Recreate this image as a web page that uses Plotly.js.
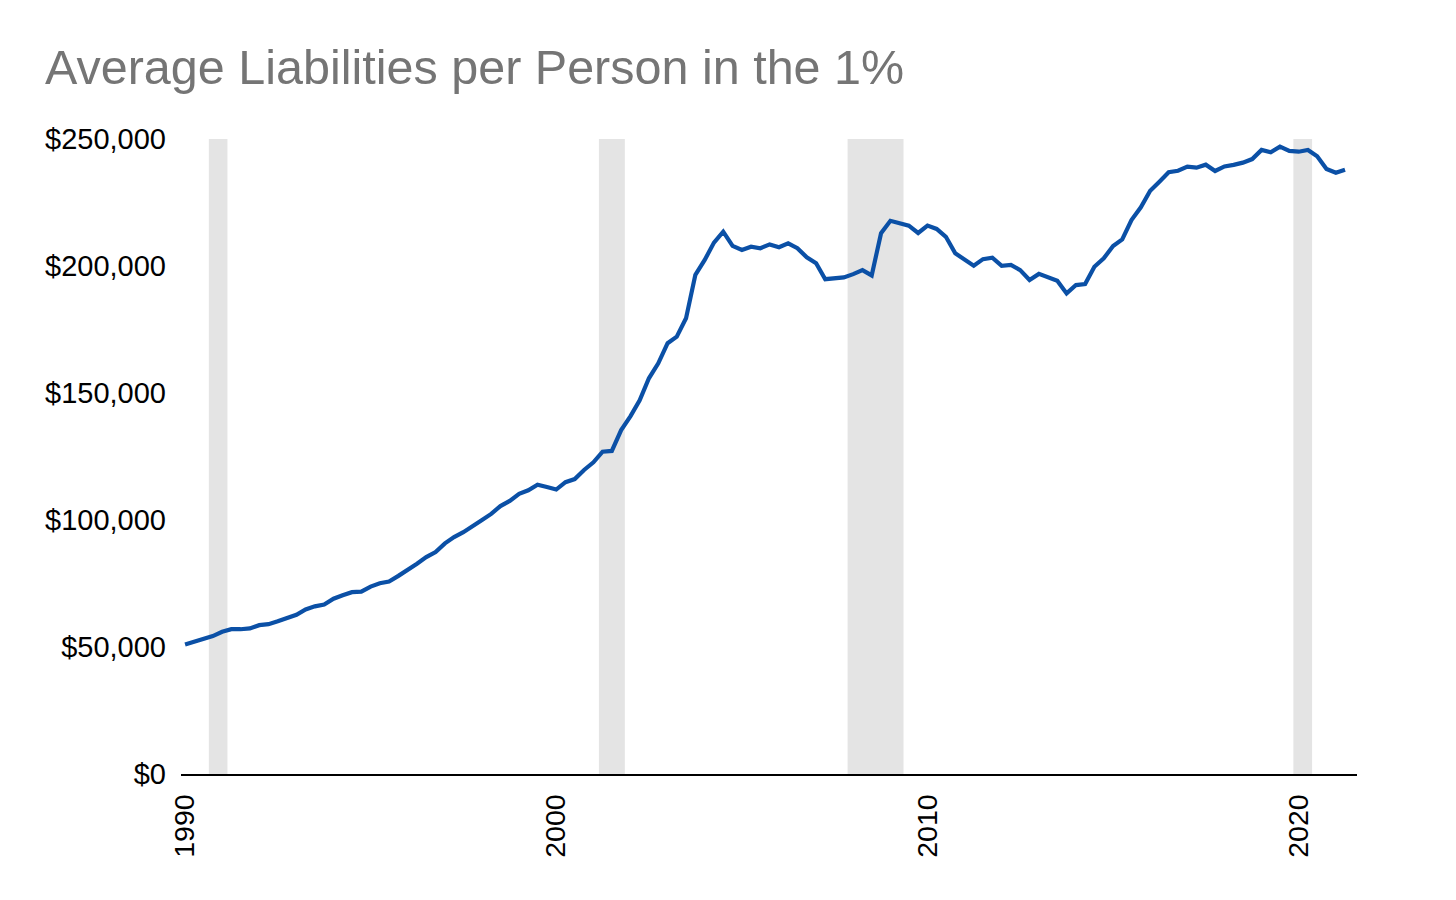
<!DOCTYPE html>
<html>
<head>
<meta charset="utf-8">
<script src="https://cdn.plot.ly/plotly-3.0.1.min.js"></script>
<style>
  html, body { margin: 0; padding: 0; background: #ffffff; }
  #chart { width: 1456px; height: 900px; }
</style>
</head>
<body>
<div id="chart"></div>
<script>
// Quarterly series, 1990 Q1 .. 2021 Q2 (values in dollars, thousands)
const firstYear = 1990;
const liabilitiesK = [
  51.0, 52.1, 53.2, 54.3, 56.0, 57.0, 57.0, 57.3, 58.6, 59.0,
  60.1, 61.5, 62.7, 64.8, 66.0, 66.7, 69.0, 70.4, 71.6, 71.8,
  73.8, 75.1, 75.8, 78.0, 80.3, 82.8, 85.4, 87.4, 90.8, 93.3,
  95.2, 97.4, 100.0, 102.4, 105.5, 107.5, 110.3, 111.7, 113.9, 113.0,
  112.0, 114.9, 116.1, 119.7, 122.7, 126.9, 127.2, 135.4, 140.9, 147.1,
  155.8, 161.7, 169.6, 172.2, 179.4, 196.5, 202.4, 209.2, 213.5, 207.9,
  206.3, 207.6, 207.0, 208.5, 207.4, 208.9, 207.0, 203.4, 201.1, 194.8,
  195.3, 195.5, 196.8, 198.4, 196.3, 212.9, 217.8, 216.8, 215.9, 213.0,
  215.9, 214.6, 211.5, 205.0, 202.6, 200.1, 202.7, 203.3, 200.1, 200.4,
  198.4, 194.5, 196.9, 195.7, 194.2, 189.2, 192.5, 192.9, 199.7, 203.0,
  207.9, 210.5, 218.1, 223.1, 229.6, 233.2, 236.9, 237.5, 239.1, 238.7,
  239.9, 237.4, 239.2, 239.8, 240.7, 242.1, 245.7, 244.8, 247.0, 245.3,
  245.0, 245.7, 243.2, 238.2, 236.7, 237.9
];
const recessionStarts = ['1990-08-23', '2001-02-24', '2007-11-07', '2019-11-10'];
const recessionEnds   = ['1991-02-22', '2001-11-06', '2009-05-10', '2020-05-12'];
const xTickVals = ['1990-01-01', '2000-01-01', '2010-01-01', '2020-01-01'];
const xTickText = ['1990', '2000', '2010', '2020'];
const yTickVals = [0, 50000, 100000, 150000, 200000, 250000];
const titleText = 'Average Liabilities per Person in the 1%';

const quarterMonths = ['01', '04', '07', '10'];
const dates = liabilitiesK.map((_, i) => {
  const y = firstYear + Math.floor(i / 4);
  return y + '-' + quarterMonths[i % 4] + '-01';
});
const values = liabilitiesK.map(v => v * 1000);

const shapes = recessionStarts.map((s, i) => ({
  type: 'rect', xref: 'x', yref: 'y',
  x0: s, x1: recessionEnds[i], y0: 0, y1: 250000,
  fillcolor: '#e4e4e4', line: { width: 0 }, layer: 'below'
}));

const trace = {
  x: dates, y: values, type: 'scatter', mode: 'lines',
  line: { color: '#0b50a6', width: 4.2 },
  hoverinfo: 'x+y'
};

const layout = {
  width: 1456, height: 900,
  paper_bgcolor: '#ffffff', plot_bgcolor: 'rgba(0,0,0,0)',
  font: { family: '"Liberation Sans", Arial, sans-serif', color: '#000000' },
  margin: { l: 181, r: 99, t: 139, b: 126, pad: 0 },
  showlegend: false,
  title: {
    text: titleText,
    font: { size: 48.5, color: '#757575', family: '"Liberation Sans", Arial, sans-serif' },
    xref: 'container', yref: 'container',
    x: 45 / 1456, xanchor: 'left',
    y: 1 - 67 / 900, yanchor: 'middle'
  },
  xaxis: {
    type: 'date',
    range: ['1989-11-22', '2021-07-28'],
    tickmode: 'array', tickvals: xTickVals, ticktext: xTickText,
    tickangle: -90,
    tickfont: { size: 28.5, color: '#000000' },
    showgrid: false, zeroline: false,
    showline: true, linecolor: '#000000', linewidth: 2,
    ticks: '', ticklabelstandoff: 7
  },
  yaxis: {
    range: [0, 250000],
    tickmode: 'array', tickvals: yTickVals,
    tickformat: '$,.0f',
    tickfont: { size: 29, color: '#000000' },
    showgrid: false, zeroline: false, showline: false,
    ticks: '', ticklabelstandoff: 14
  },
  shapes: shapes
};

Plotly.newPlot('chart', [trace], layout, { displayModeBar: false, staticPlot: true });
</script>
</body>
</html>
